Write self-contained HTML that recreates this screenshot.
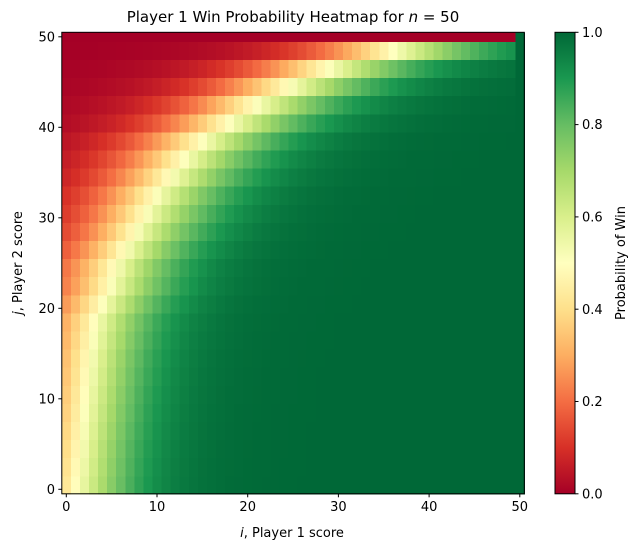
<!DOCTYPE html>
<html><head><meta charset="utf-8"><style>
body{margin:0;background:#fff;width:638px;height:551px;overflow:hidden;font-family:"DejaVu Sans","Liberation Sans",sans-serif;}
</style></head><body>
<svg id="s" width="638" height="551" xmlns="http://www.w3.org/2000/svg" font-family="DejaVu Sans, Liberation Sans, sans-serif" font-size="13">
<defs><linearGradient id="cb" x1="0" y1="1" x2="0" y2="0">
<stop offset="0" stop-color="#a50026"/><stop offset="0.1" stop-color="#d73027"/><stop offset="0.2" stop-color="#f46d43"/><stop offset="0.3" stop-color="#fdae61"/><stop offset="0.4" stop-color="#fee08b"/><stop offset="0.5" stop-color="#ffffbf"/><stop offset="0.6" stop-color="#d9ef8b"/><stop offset="0.7" stop-color="#a6d96a"/><stop offset="0.8" stop-color="#66bd63"/><stop offset="0.9" stop-color="#1a9850"/><stop offset="1" stop-color="#006837"/></linearGradient></defs>
<g id="cells" shape-rendering="crispEdges"></g>
<rect x="61.8" y="32.3" width="462.5" height="461.5" fill="none" stroke="#000" stroke-width="1"/>
<g id="ax" stroke="#000"></g>
<g id="lab" fill="#000"></g>
<text x="293" y="22" text-anchor="middle" font-size="15">Player 1 Win Probability Heatmap for <tspan font-style="italic">n</tspan> = 50</text>
<text x="292" y="537" text-anchor="middle"><tspan font-style="italic">i</tspan>, Player 1 score</text>
<text transform="translate(22,263) rotate(-90)" text-anchor="middle"><tspan font-style="italic">j</tspan>, Player 2 score</text>
<rect x="555" y="32.3" width="20" height="461.5" fill="url(#cb)" stroke="#000" stroke-width="1"/>
<text transform="translate(625,263) rotate(-90)" text-anchor="middle">Probability of Win</text>
</svg>
<script>
var cm=["#a50026","#d73027","#f46d43","#fdae61","#fee08b","#ffffbf","#d9ef8b","#a6d96a","#66bd63","#1a9850","#006837"];
function hx(h){return [parseInt(h.substr(1,2),16),parseInt(h.substr(3,2),16),parseInt(h.substr(5,2),16)];}
var cmr=cm.map(hx);
function col(p){p=Math.max(0,Math.min(1,p));var t=p*10,k=Math.min(9,Math.floor(t)),f=t-k,a=cmr[k],b=cmr[k+1];
return "rgb("+[0,1,2].map(function(q){return Math.round(a[q]+(b[q]-a[q])*f)}).join(",")+")";}
var i0=[1.1,1.3,1.5,1.7,1.9,2.1,2.3,2.5,2.8,3.1,3.9,4.8,5.3,6.4,7.6,8.7,9.8,11.4,12.9,14.9,17.9,20.8,24.5,28.8,36];
var g=document.getElementById("cells"),out="";
function rect(x,y,w,h,c){out+='<rect x="'+x.toFixed(2)+'" y="'+y.toFixed(2)+'" width="'+w.toFixed(2)+'" height="'+h.toFixed(2)+'" fill="'+c+'"/>';}
var X0=61.8,CW=9.07,YB=493.8,RH=18.1;
for(var k=0;k<26;k++){
 var y1,y2;
 if(k<25){y2=YB-RH*k;y1=YB-RH*(k+1);}else{y1=32.3;y2=YB-RH*25;}
 var j=2*k;
 for(var c=0;c<51;c++){
  var p;
  if(k==25){p=(c==50)?1:0.0;}
  else if(c==50){p=1;}
  else{var s=3.6+0.0009*j*j;p=1/(1+Math.exp(-(c-i0[k])/s));}
  rect(X0+CW*c,y1,CW+0.6,y2-y1+0.6,col(p));
 }
}
g.innerHTML=out;
var ax="",lb="";
for(var v=0;v<=50;v+=10){var x=66.3+9.07*v;ax+='<line x1="'+x+'" y1="493.8" x2="'+x+'" y2="497.3"/>';lb+='<text x="'+x+'" y="511" text-anchor="middle">'+v+'</text>';
var y=489.3-9.05*v;ax+='<line x1="61.8" y1="'+y+'" x2="58.3" y2="'+y+'"/>';lb+='<text x="55" y="'+(y+4.6)+'" text-anchor="end">'+v+'</text>';}
for(var q=0;q<=5;q++){var y=493.8-461.5*q/5;ax+='<line x1="575" y1="'+y+'" x2="578.5" y2="'+y+'"/>';lb+='<text x="582" y="'+(y+4.6)+'">'+(q/5).toFixed(1)+'</text>';}
document.getElementById("ax").innerHTML=ax;document.getElementById("lab").innerHTML=lb;
</script>
</body></html>
